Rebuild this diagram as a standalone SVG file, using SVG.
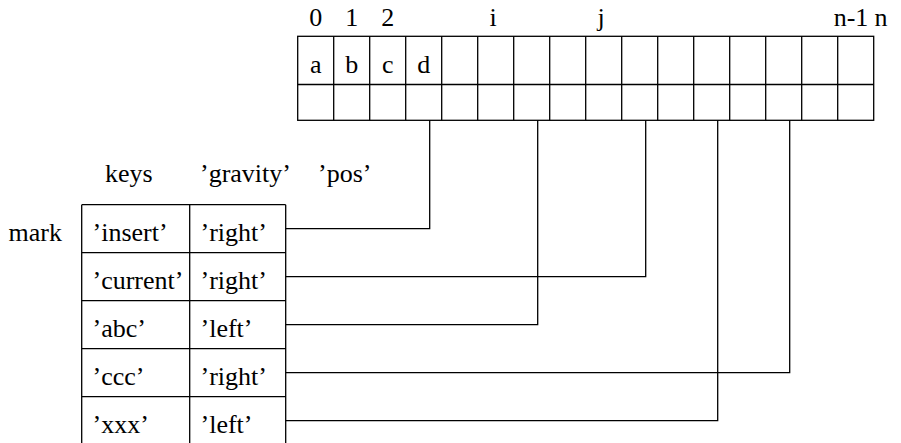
<svg xmlns="http://www.w3.org/2000/svg" width="901" height="443" viewBox="0 0 901 443">
  <style>
    text { font-family: "Liberation Serif", "Times New Roman", serif; font-size: 26px; fill: #000; }
    .mid { text-anchor: middle; }
    .ln { fill: none; stroke: #000; stroke-width: 1.3; }
  </style>
  <rect width="901" height="443" fill="#fff"/>

  <!-- buffer: 16 cells of 36px, text row over a marker row -->
  <g id="buffer">
    <rect class="ln" x="297.7" y="36.3" width="576" height="84"/>
    <line class="ln" x1="297.7" y1="84.5" x2="873.7" y2="84.5"/>
    <path class="ln" d="M333.7 36.3V120.3M369.7 36.3V120.3M405.7 36.3V120.3M441.7 36.3V120.3M477.7 36.3V120.3M513.7 36.3V120.3M549.7 36.3V120.3M585.7 36.3V120.3M621.7 36.3V120.3M657.7 36.3V120.3M693.7 36.3V120.3M729.7 36.3V120.3M765.7 36.3V120.3M801.7 36.3V120.3M837.7 36.3V120.3"/>
    <text class="mid" x="315.7" y="25.5">0</text>
    <text class="mid" x="351.7" y="25.5">1</text>
    <text class="mid" x="387.7" y="25.5">2</text>
    <text class="mid" x="493" y="25.5">i</text>
    <text class="mid" x="601" y="25.5">j</text>
    <text class="mid" x="851" y="25.5">n-1</text>
    <text class="mid" x="881" y="25.5">n</text>
    <text class="mid" x="315.7" y="72.7">a</text>
    <text class="mid" x="351.7" y="72.7">b</text>
    <text class="mid" x="387.7" y="72.7">c</text>
    <text class="mid" x="423.7" y="72.7">d</text>
  </g>

  <!-- column headings and row label -->
  <g id="headings">
    <text x="105" y="181.7">keys</text>
    <text x="200" y="181.7">’gravity’</text>
    <text x="318" y="181.7">’pos’</text>
    <text x="8.5" y="241">mark</text>
  </g>

  <!-- mark table -->
  <g id="marks">
    <path class="ln" d="M81.7 204.7H285.7M81.7 252.7H285.7M81.7 300.7H285.7M81.7 348.7H285.7M81.7 396.7H285.7M81.7 204.7V450M189.7 204.7V450M285.7 204.7V450"/>
    <g id="mark-insert">
      <text x="92.5" y="240.7">’insert’</text>
      <text x="200.5" y="240.7">’right’</text>
    </g>
    <g id="mark-current">
      <text x="92.5" y="288.7">’current’</text>
      <text x="200.5" y="288.7">’right’</text>
    </g>
    <g id="mark-abc">
      <text x="92.5" y="336.7">’abc’</text>
      <text x="200.5" y="336.7">’left’</text>
    </g>
    <g id="mark-ccc">
      <text x="92.5" y="384.7">’ccc’</text>
      <text x="200.5" y="384.7">’right’</text>
    </g>
    <g id="mark-xxx">
      <text x="92.5" y="432.7">’xxx’</text>
      <text x="200.5" y="432.7">’left’</text>
    </g>
  </g>

  <!-- pos links from each mark into the buffer -->
  <g id="connectors">
    <polyline class="ln" points="285.7,228.7 429.7,228.7 429.7,120.3"/>
    <polyline class="ln" points="285.7,276.7 645.7,276.7 645.7,120.3"/>
    <polyline class="ln" points="285.7,324.7 537.7,324.7 537.7,120.3"/>
    <polyline class="ln" points="285.7,372.7 789.7,372.7 789.7,120.3"/>
    <polyline class="ln" points="285.7,420.7 717.7,420.7 717.7,120.3"/>
  </g>
</svg>
